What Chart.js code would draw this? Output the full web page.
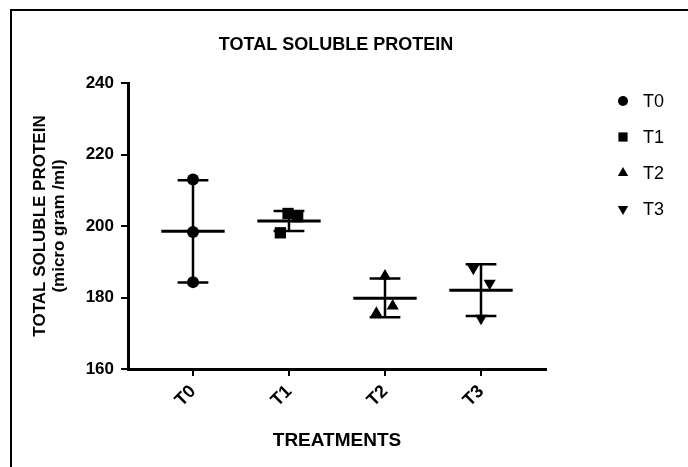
<!DOCTYPE html>
<html lang="en">
<head>
  <meta charset="UTF-8" />
  <title>Total Soluble Protein</title>
  <script src="https://cdn.jsdelivr.net/npm/chart.js"></script>
  <style>
    html, body { margin: 0; padding: 0; background: #fff; }
    #wrap { position: relative; width: 688px; height: 467px; }
    #frame { position: absolute; left: 10px; top: 9px; right: 0; bottom: 0; border-left: 2px solid #000; border-top: 2px solid #000; pointer-events: none; }
    canvas { position: absolute; left: 0; top: 0; }
  </style>
</head>
<body>
  <div id="wrap">
    <canvas id="proteinChart" width="688" height="467"></canvas>
    <div id="frame"></div>
  </div>

  <script>
    // values (micro gram / ml)
    const treatments = ['T0', 'T1', 'T2', 'T3'];
    const t0Values = [213.0, 198.3, 184.3];
    const t1Values = [203.5, 202.6, 198.1];
    const t2Values = [186.0, 175.6, 177.6];
    const t3Values = [188.2, 184.0, 174.2];
    // horizontal scatter of the replicate points, in category units
    const t0Jitter = [0, 0, 0];
    const t1Jitter = [-0.01, 0.09, -0.09];
    const t2Jitter = [0, -0.09, 0.08];
    const t3Jitter = [-0.08, 0.09, 0];
    // mean line and error bar ends
    const meanValues = [198.5, 201.4, 179.8, 182.0];
    const errLow = [184.2, 198.6, 174.5, 174.8];
    const errHigh = [212.8, 204.2, 185.3, 189.3];
    const yTicks = [160, 180, 200, 220, 240];

    const chartTitle = 'TOTAL SOLUBLE PROTEIN';
    const yTitle = ['TOTAL SOLUBLE PROTEIN', '(micro gram /ml)'];
    const xTitle = 'TREATMENTS';

    const FONT = '"Liberation Sans", Arial, sans-serif';

    function points(vals, jitter, idx) {
      return vals.map((v, k) => ({ x: idx + jitter[k], y: v }));
    }

    const datasets = [
      { label: 'T0', data: points(t0Values, t0Jitter, 0), pointStyle: 'circle', pointRadius: 6, pointRotation: 0, keySize: 5 },
      { label: 'T1', data: points(t1Values, t1Jitter, 1), pointStyle: 'rect', pointRadius: 8, pointRotation: 0, keySize: 6.5 },
      { label: 'T2', data: points(t2Values, t2Jitter, 2), pointStyle: 'triangle', pointRadius: 7, pointRotation: 0, keySize: 6 },
      { label: 'T3', data: points(t3Values, t3Jitter, 3), pointStyle: 'triangle', pointRadius: 7, pointRotation: 180, keySize: 6 }
    ].map(d => Object.assign(d, { backgroundColor: '#000', borderColor: '#000', borderWidth: 0, pointHoverRadius: d.pointRadius }));

    // mean line + error bars, drawn through the scales
    const meanBars = {
      id: 'meanBars',
      afterDatasetsDraw(chart) {
        const { ctx, scales: { x, y } } = chart;
        const unit = x.getPixelForValue(1) - x.getPixelForValue(0);
        ctx.save();
        ctx.strokeStyle = '#000';
        meanValues.forEach((m, i) => {
          const cx = x.getPixelForValue(i);
          const half = unit * 0.33, cap = unit * 0.16;
          const ym = y.getPixelForValue(m), yl = y.getPixelForValue(errLow[i]), yh = y.getPixelForValue(errHigh[i]);
          ctx.lineWidth = 3;
          ctx.beginPath();
          ctx.moveTo(cx - half, ym); ctx.lineTo(cx + half, ym);
          ctx.stroke();
          ctx.lineWidth = 2.5;
          ctx.beginPath();
          ctx.moveTo(cx, yh); ctx.lineTo(cx, yl);
          ctx.moveTo(cx - cap, yh); ctx.lineTo(cx + cap, yh);
          ctx.moveTo(cx - cap, yl); ctx.lineTo(cx + cap, yl);
          ctx.stroke();
        });
        ctx.restore();
      }
    };

    // title on top and the symbol key on the right
    const extras = {
      id: 'extras',
      afterDraw(chart) {
        const ctx = chart.ctx;
        ctx.save();
        ctx.fillStyle = '#000';
        ctx.font = 'bold 18px ' + FONT;
        ctx.textAlign = 'center';
        ctx.textBaseline = 'middle';
        ctx.fillText(chartTitle, 336, 45);

        ctx.font = '18px ' + FONT;
        ctx.textAlign = 'left';
        chart.data.datasets.forEach((ds, i) => {
          const ly = 101 + i * 36;
          Chart.helpers.drawPoint(ctx, { pointStyle: ds.pointStyle, rotation: ds.pointRotation, radius: ds.keySize, borderWidth: 0 }, 623, ly);
          ctx.fillText(ds.label, 643, ly + 1);
        });
        ctx.restore();
      }
    };

    const axisGrid = { drawOnChartArea: false, drawTicks: true, tickLength: 7, color: '#000', lineWidth: 2 };

    new Chart(document.getElementById('proteinChart'), {
      type: 'scatter',
      data: { datasets },
      plugins: [meanBars, extras],
      options: {
        responsive: false,
        animation: false,
        layout: { padding: { top: 83, right: 142, left: 0, bottom: 0 } },
        plugins: { legend: { display: false }, title: { display: false }, tooltip: { enabled: false } },
        scales: {
          x: {
            type: 'linear',
            min: -0.677,
            max: 3.677,
            afterBuildTicks: s => { s.ticks = treatments.map((t, i) => ({ value: i })); },
            afterFit: s => { s.height = 98; },
            ticks: {
              autoSkip: false, maxRotation: 45, minRotation: 45, padding: 5,
              color: '#000', font: { family: FONT, size: 18, weight: 'bold' },
              callback: v => treatments[v]
            },
            grid: axisGrid,
            border: { color: '#000', width: 3 },
            title: { display: true, text: xTitle, color: '#000', font: { family: FONT, size: 19, weight: 'bold' }, padding: { top: 4, bottom: 15 } }
          },
          y: {
            min: 160,
            max: 240,
            afterBuildTicks: s => { s.ticks = yTicks.map(v => ({ value: v })); },
            afterFit: s => { s.width = 128; },
            ticks: { padding: 7, color: '#000', font: { family: FONT, size: 17, weight: 'bold' } },
            grid: axisGrid,
            border: { color: '#000', width: 3 },
            title: { display: true, text: yTitle, color: '#000', font: { family: FONT, size: 17, weight: 'bold', lineHeight: 1.1 }, padding: { top: 31 } }
          }
        }
      }
    });
  </script>
</body>
</html>
